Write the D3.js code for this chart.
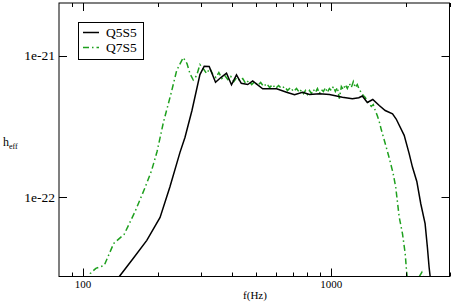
<!DOCTYPE html>
<html>
<head>
<meta charset="utf-8">
<script src="https://cdn.jsdelivr.net/npm/d3@7"></script>
<style>
  body { margin: 0; background: #fff; }
  svg { display: block; }
  text { font-family: "Liberation Serif", "Times New Roman", serif; fill: #000; }
</style>
</head>
<body>
<svg width="452" height="303"></svg>
<script>
// h values are given in units of 1e-22
var UNIT = 1e-22;

var freqQ5S5 = [134.8, 140.3, 159.2, 180.7, 204.4, 224.2, 245.9, 257.5, 274.8, 295.9,
  307.9, 322.5, 342.0, 359.3, 378.7, 396.6, 415.4, 434.3, 461.2, 483.0,
  501.2, 529.8, 603.0, 661.4, 712.1, 766.8, 818.2, 897.4, 984.4, 1110,
  1218, 1293, 1336, 1399, 1472, 1563, 1652, 1768, 1829, 1970,
  2063, 2127, 2215, 2298, 2392, 2443, 2482, 2517];
var hQ5S5 = [0.246, 0.276, 0.369, 0.495, 0.719, 1.19, 2.07, 2.64, 4.09, 7.34,
  8.40, 8.36, 6.48, 6.99, 7.50, 6.21, 7.31, 6.37, 6.24, 6.61,
  6.29, 5.82, 5.82, 5.51, 5.28, 5.51, 5.31, 5.37, 5.31, 5.08,
  4.95, 5.03, 5.18, 4.66, 4.89, 4.44, 4.09, 3.88, 3.56, 2.73,
  2.03, 1.63, 1.29, 0.898, 0.649, 0.444, 0.321, 0.258];

var freqQ7S5 = [104.1, 107.0, 112.6, 121.8, 132.9, 146.5, 162.2, 177.9, 188.9, 198.8,
  210.8, 226.3, 238.5, 253.5, 262.4, 269.7, 278.1, 287.0, 295.9, 305.1,
  314.8, 324.5, 333.7, 343.1, 352.7, 362.6, 372.8, 383.3, 394.1, 405.2,
  416.6, 428.3, 440.3, 452.7, 465.4, 478.5, 491.9, 505.7, 519.9, 534.5,
  549.6, 565.0, 580.9, 597.2, 614.0, 631.3, 649.0, 667.2, 686.0, 705.3,
  725.1, 745.5, 759.4, 773.6, 788.0, 802.7, 817.7, 833.0, 848.6, 864.4,
  880.6, 897.0, 913.8, 930.9, 948.3, 966.0, 984.0, 1002.4, 1021.1, 1040.2,
  1059.6, 1079.4, 1099.6, 1120.1, 1141.0, 1162.3, 1184.0, 1206.1, 1228.6, 1251.6,
  1275.0, 1298.8, 1323.1, 1347.8, 1373.0, 1398.6, 1424.7, 1451.3, 1478.4, 1506.0,
  1534.2, 1562.8, 1592.2, 1660, 1714.5, 1779.3, 1821, 1881, 1939, 1988.6,
  2012.6, 2035, 2160, 2320, 2392];
var hQ7S5 = [0.250, 0.289, 0.314, 0.330, 0.471, 0.546, 0.793, 1.17, 1.54, 2.10,
  3.37, 5.39, 7.84, 9.68, 8.78, 7.46, 6.72, 7.22, 8.64, 8.10,
  7.46, 8.10, 7.34, 6.99, 7.59, 6.88, 7.22, 6.77, 7.11, 6.55,
  6.99, 6.66, 6.88, 6.34, 6.66, 6.24, 6.55, 6.14, 6.45, 6.04,
  6.34, 5.94, 6.24, 5.85, 6.14, 5.85, 6.04, 5.66, 5.94, 5.57,
  5.85, 5.48, 5.75, 5.39, 5.66, 5.31, 5.66, 5.39, 5.75, 5.48,
  5.85, 5.39, 5.75, 5.57, 5.94, 5.48, 5.85, 5.66, 6.04, 5.57,
  5.94, 4.97, 6.04, 5.75, 6.24, 5.85, 6.34, 5.94, 6.55, 5.94,
  6.24, 5.75, 5.48, 5.22, 5.05, 4.73, 4.58, 4.37, 4.51, 4.09,
  3.77, 3.42, 3.00, 2.32, 1.89, 1.462, 1.176, 0.723, 0.552, 0.399,
  0.304, 0.254, 0.238, 0.294, 0.238];

var seriesNames = ["Q5S5", "Q7S5"];
var xMajor = [100, 1000];
var xMinor = [90, 200, 300, 400, 500, 600, 700, 800, 900, 2000, 3000];
var yMajor = [1e-22, 1e-21];
var yTickLabels = ["1e-22", "1e-21"];

var plotLeft = 59, plotRight = 449.5, plotTop = 3, plotBottom = 276.5;

var svg = d3.select("svg");

var x = d3.scaleLog().domain([80, 3000]).range([plotLeft, plotRight]);
var y = d3.scaleLog().domain([2.75e-23, 2.35e-21]).range([plotBottom, plotTop]);

svg.append("defs").append("clipPath")
    .attr("id", "clip")
  .append("rect")
    .attr("x", plotLeft).attr("y", plotTop)
    .attr("width", plotRight - plotLeft).attr("height", plotBottom - plotTop);

function toPoints(fs, hs) {
  return fs.map(function(f, i) { return [f, hs[i] * UNIT]; });
}

var line = d3.line()
    .x(function(d) { return x(d[0]); })
    .y(function(d) { return y(d[1]); });

var plot = svg.append("g").attr("clip-path", "url(#clip)");

plot.append("path")
    .datum(toPoints(freqQ7S5, hQ7S5))
    .attr("d", line)
    .style("fill", "none")
    .style("stroke", "#1ea01e")
    .style("stroke-width", 1.5)
    .style("stroke-dasharray", "6,3,1.5,3");

plot.append("path")
    .datum(toPoints(freqQ5S5, hQ5S5))
    .attr("d", line)
    .style("fill", "none")
    .style("stroke", "#000")
    .style("stroke-width", 1.5);

// frame
svg.append("rect")
    .attr("x", plotLeft).attr("y", plotTop)
    .attr("width", plotRight - plotLeft).attr("height", plotBottom - plotTop)
    .style("fill", "none")
    .style("stroke", "#000")
    .style("stroke-width", 1);

// ticks on all four sides
var ticks = svg.append("g").style("stroke", "#000").style("stroke-width", 1);

function xTicks(vals, len) {
  vals.forEach(function(v) {
    var px = Math.round(x(v)) + 0.5;
    ticks.append("line").attr("x1", px).attr("x2", px).attr("y1", plotBottom).attr("y2", plotBottom - len);
    ticks.append("line").attr("x1", px).attr("x2", px).attr("y1", plotTop).attr("y2", plotTop + len);
  });
}
xTicks(xMajor, 8);
xTicks(xMinor, 4);

yMajor.forEach(function(v) {
  var py = Math.round(y(v)) + 0.5;
  ticks.append("line").attr("x1", plotLeft).attr("x2", plotLeft + 8).attr("y1", py).attr("y2", py);
  ticks.append("line").attr("x1", plotRight).attr("x2", plotRight - 8).attr("y1", py).attr("y2", py);
});

svg.selectAll(".xlab")
    .data(xMajor)
  .enter().append("text")
    .attr("x", function(d) { return x(d); })
    .attr("y", 288)
    .attr("text-anchor", "middle")
    .style("font-size", "11px")
    .text(function(d) { return d; });

svg.selectAll(".ylab")
    .data(yMajor)
  .enter().append("text")
    .attr("x", 55)
    .attr("y", function(d) { return y(d); })
    .attr("dy", "0.33em")
    .attr("text-anchor", "end")
    .style("font-size", "13.5px")
    .text(function(d, i) { return yTickLabels[i]; });

svg.append("text")
    .attr("x", 255)
    .attr("y", 299)
    .attr("text-anchor", "middle")
    .style("font-size", "11px")
    .text("f(Hz)");

var ylabel = svg.append("text")
    .attr("x", 3)
    .attr("y", 146)
    .style("font-size", "12px");
ylabel.append("tspan").text("h");
ylabel.append("tspan").attr("dy", 3).style("font-size", "8px").text("eff");

// legend
var legend = svg.append("g");
legend.append("rect")
    .attr("x", 78.5).attr("y", 22.5)
    .attr("width", 65).attr("height", 37)
    .style("fill", "#fff")
    .style("stroke", "#000")
    .style("stroke-width", 1);

var legendStyles = [
  {stroke: "#000", dash: null},
  {stroke: "#1ea01e", dash: "6,3,1.5,3"}
];

seriesNames.forEach(function(name, i) {
  var ly = 32.5 + i * 15;
  legend.append("line")
      .attr("x1", 83).attr("x2", 99)
      .attr("y1", ly).attr("y2", ly)
      .style("stroke", legendStyles[i].stroke)
      .style("stroke-width", 1.5)
      .style("stroke-dasharray", legendStyles[i].dash);
  legend.append("text")
      .attr("x", 106)
      .attr("y", ly + 4.5)
      .style("font-size", "13.5px")
      .text(name);
});
</script>
</body>
</html>
